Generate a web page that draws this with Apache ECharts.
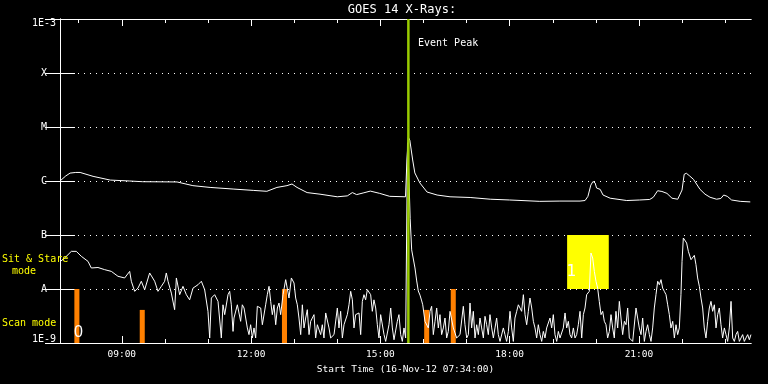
<!DOCTYPE html>
<html><head><meta charset="utf-8">
<script src="https://cdn.jsdelivr.net/npm/echarts@6/dist/echarts.min.js"></script>
<style>html,body{margin:0;padding:0;background:#000;}#c{width:768px;height:384px;}</style>
</head><body><div id="c"></div>
<script>
// time axis: minutes since start 16-Nov-12 07:34:00
const endMinute = 962;
const hourTickMinutes = [26,86,146,206,266,326,386,446,506,566,626,686,746,806,866,926];
const labelTickMinutes = [86,266,446,626,806];
const labelTickText = ['09:00','12:00','15:00','18:00','21:00'];
const yTickExponents = [-9,-8,-7,-6,-5,-4,-3];
const yTickLabels = ['1E-9','A','B','C','M','X','1E-3'];

// GOES 14 long channel (upper curve) [minute, W/m^2]
const longChannel = [[0,1.0e-6],[8,1.24e-6],[14,1.4e-6],[22,1.44e-6],[28,1.44e-6],[46,1.22e-6],[70,1.04e-6],[97,1.0e-6],[115,9.7e-7],[163,9.6e-7],[185,8.2e-7],[209,7.6e-7],[241,7.1e-7],[269,6.7e-7],[288,6.45e-7],[302,7.6e-7],[316,8.2e-7],[323,8.8e-7],[330,7.6e-7],[344,6.1e-7],[362,5.7e-7],[386,5.1e-7],[400,5.3e-7],[407,6.1e-7],[413,5.6e-7],[422,6.0e-7],[432,6.5e-7],[445,5.9e-7],[459,5.2e-7],[481,5.1e-7],[483,2.45e-6],[485,6.5e-6],[487,5.7e-6],[491,2.45e-6],[494,1.41e-6],[501,9.2e-7],[511,6.25e-7],[525,5.5e-7],[543,5.1e-7],[571,4.95e-7],[599,4.6e-7],[626,4.45e-7],[668,4.2e-7],[696,4.25e-7],[724,4.25e-7],[731,4.35e-7],[735,5.2e-7],[739,8.4e-7],[742,9.8e-7],[745,9.2e-7],[747,7.4e-7],[752,7.0e-7],[756,5.5e-7],[766,4.8e-7],[789,4.35e-7],[807,4.45e-7],[821,4.55e-7],[826,5.0e-7],[832,6.6e-7],[838,6.4e-7],[845,5.9e-7],[852,4.8e-7],[860,4.6e-7],[866,6.8e-7],[869,1.33e-6],[872,1.39e-6],[876,1.26e-6],[882,1.07e-6],[891,7.0e-7],[898,5.7e-7],[905,5.0e-7],[914,4.6e-7],[920,4.75e-7],[924,5.5e-7],[929,5.2e-7],[935,4.45e-7],[947,4.2e-7],[961,4.1e-7]];

// GOES 14 short channel (lower curve) [minute, W/m^2]
const shortChannel = [[0,3.2e-8],[6.5,3.75e-8],[15.8,4.98e-8],[22.7,4.98e-8],[29.7,4.03e-8],[39,3.25e-8],[43.6,2.45e-8],[52.9,2.5e-8],[62.2,2.28e-8],[71.5,2.12e-8],[80.7,1.72e-8],[90,1.6e-8],[97,2.12e-8],[99.3,1.39e-8],[104,9.05e-9],[108.6,1.04e-8],[113.2,1.39e-8],[117.9,9.7e-9],[124.8,1.98e-8],[131.8,1.39e-8],[136.4,9.05e-9],[141.1,1.12e-8],[145.7,1.39e-8],[148,1.98e-8],[150.4,1.39e-8],[155,8.4e-9],[159.6,4.14e-9],[162,1.6e-8],[166.6,7.85e-9],[171.2,1.12e-8],[175.9,7.85e-9],[180.5,6.3e-9],[185.2,1.04e-8],[192.1,1.2e-8],[196.8,1.39e-8],[201.4,9.7e-9],[206,3.86e-9],[208.4,1.24e-9],[210.7,6.8e-9],[215.3,7.85e-9],[220,5.9e-9],[224.6,1.24e-9],[226.9,5.1e-9],[229.3,3.35e-9],[233.9,7.85e-9],[236.2,9.05e-9],[238.5,5.1e-9],[240.9,1.64e-9],
[242.2,2.9e-9],[246.9,5.1e-9],[251.5,2.52e-9],[253.8,5.1e-9],[256.2,4.45e-9],[260.8,1.9e-9],[263.1,1.43e-9],[265.4,2.18e-9],[267.8,1.24e-9],[270.1,1.9e-9],[272.4,1.24e-9],[274.7,4.78e-9],[277.1,5.1e-9],[279.4,4.45e-9],[281.7,2.18e-9],[286.3,5.1e-9],[288.6,7.85e-9],[291,1.12e-8],[293.3,5.9e-9],[295.6,3.35e-9],[297.9,5.1e-9],[300.3,2.18e-9],[302.6,4.45e-9],[304.9,5.5e-9],[307.2,3.35e-9],[310.5,7.85e-9],[314.2,1.49e-8],[318.8,6.8e-9],[322.1,1.6e-8],[325.8,1.29e-8],[328.1,6.8e-9],[330.4,5.1e-9],[332.7,2.9e-9],[335.1,1.43e-9],[337.4,5.1e-9],[339.7,1.9e-9],[342,2.9e-9],[344.3,4.14e-9],[346.7,1.43e-9],[349,2.52e-9],[353.6,3.35e-9],[355.9,1.24e-9],[358.3,2.18e-9],[362.9,1.43e-9],[365.2,2.18e-9],[367.5,1.24e-9],[369.9,3.6e-9],[372.2,3.86e-9],[374.5,1.9e-9],[376.8,1.24e-9],[381.5,1.43e-9],[386.1,4.45e-9],[388.4,1.9e-9],[390.7,3.86e-9],[393.1,1.24e-9],[395.4,2.18e-9],[400,3.35e-9],[402.3,5.1e-9],[404.7,9.05e-9],[407,6.3e-9],[409.3,1.9e-9],[411.6,3.35e-9],[416.3,3.6e-9],[418.6,1.43e-9],[420.9,5.9e-9],[423.2,7.85e-9],[425.5,6.3e-9],[427.9,9.7e-9],[430.2,1.04e-8],[432.5,7.85e-9],[434.8,3.86e-9],[437.1,6.3e-9],[439.5,4.45e-9],[441.8,2.18e-9],[444.1,1.24e-9],[446.4,3.35e-9],[451.1,1.43e-9],[453.4,1.07e-9],[458,2.18e-9],[460.4,4.45e-9],[462.7,1.9e-9],[465,1.15e-9],[469.6,2.52e-9],[471.9,3.35e-9],[474.3,1.43e-9],[476.6,1.07e-9],[478.9,1.9e-9],[481.2,1.24e-9],
[482.8,1.2e-9],[483.8,5.1e-6],[485.5,1.5e-6],[487.5,2.0e-7],[489.6,5.3e-8],[494.2,2.45e-8],[496.6,1.41e-8],[498.8,9.2e-9],[501.2,7.7e-9],[503.6,6.0e-9],[505,5.1e-9],
[508.1,2.52e-9],[512.8,1.9e-9],[515.1,3.86e-9],[517.4,4.78e-9],[519.7,1.43e-9],[522.1,2.52e-9],[524.4,4.45e-9],[526.7,1.9e-9],[529,3.35e-9],[531.3,1.43e-9],[533.7,1.9e-9],[536,2.9e-9],[538.3,1.24e-9],[540.6,1.64e-9],[543,3.86e-9],[547.6,1.9e-9],[552.2,1.24e-9],[556.9,1.43e-9],[561.5,4.78e-9],[563.8,2.18e-9],[566.2,1.24e-9],[568.5,1.43e-9],[570.8,5.5e-9],[573.1,1.9e-9],[575.4,3.86e-9],[577.8,1.24e-9],[580.1,2.18e-9],[582.4,1.43e-9],[584.7,2.9e-9],[587,1.9e-9],[589.4,1.24e-9],[591.7,3.12e-9],[594,2.18e-9],[596.3,1.43e-9],[598.6,3.35e-9],[601,1.9e-9],[603.3,1.24e-9],[605.6,1.9e-9],[607.9,2.9e-9],[610.2,1.43e-9],[612.6,1.07e-9],[617.2,1.9e-9],[619.5,1.43e-9],[621.8,1.07e-9],[624.2,1.64e-9],[626.5,3.86e-9],[628.8,1.9e-9],[631.1,1.07e-9],[633.4,2.9e-9],[635.8,3.86e-9],[638.1,5.1e-9],[640.4,4.45e-9],[642.7,3.86e-9],[645.1,7.85e-9],[647.4,3.35e-9],[649.7,2.18e-9],[652,3.86e-9],[654.3,6.8e-9],[656.7,4.45e-9],[659,2.52e-9],[661.3,1.9e-9],[663.6,1.24e-9],[665.9,2.18e-9],[668.3,1.43e-9],[670.6,1.07e-9],[672.9,1.64e-9],[675.2,1.24e-9],[677.5,1.9e-9],[682.2,2.9e-9],[684.5,1.9e-9],[686.8,3.35e-9],[689.1,1.43e-9],[691.5,1.07e-9],[693.8,1.64e-9],[696.1,1.24e-9],[700.7,1.9e-9],[703.1,3.6e-9],[705.4,1.9e-9],[707.7,2.52e-9],[710,1.43e-9],[712.3,1.24e-9],[714.7,1.9e-9],[717,1.24e-9],[719.3,1.43e-9],[721.6,2.18e-9],[724,3.86e-9],[726.3,1.24e-9],[728.6,3.35e-9],[730.9,4.45e-9],[733.2,7.85e-9],
[736.9,9.05e-9],[739.2,4.64e-8],[741.6,3.75e-8],[743.9,2.12e-8],[746.2,1.39e-8],[748.5,1.04e-8],[750.8,5.9e-9],[753.2,3.35e-9],[755.5,3.86e-9],[757.8,2.52e-9],[760.1,2.18e-9],[762.4,1.24e-9],[764.8,1.64e-9],[767.1,3.35e-9],[769.4,1.9e-9],[771.7,1.24e-9],[774,3.86e-9],[776.4,1.9e-9],[778.7,5.9e-9],[781,2.9e-9],[783.3,1.43e-9],[785.7,2.52e-9],[788,2.18e-9],[790.3,4.45e-9],[792.6,1.24e-9],[797.3,1.07e-9],[801.9,4.45e-9],[804.2,2.9e-9],[806.5,1.9e-9],[808.9,1.43e-9],[811.2,2.9e-9],[813.5,1.07e-9],[815.8,1.64e-9],[818.1,2.18e-9],[820.5,1.43e-9],[822.8,1.07e-9],[825.1,1.9e-9],[827.4,4.45e-9],[829.7,7.85e-9],[832.1,1.39e-8],[834.4,1.2e-8],[836.7,1.49e-8],[839,1.04e-8],[841.3,9.05e-9],[843.7,7.85e-9],[846,5.1e-9],[848.3,3.35e-9],[850.6,1.9e-9],[853,2.52e-9],[855.3,1.24e-9],[857.6,2.18e-9],[859.9,1.43e-9],[862.2,1.9e-9],[864.5,7.85e-9],[866,3.25e-8],[867.8,8.8e-8],[870.1,9.05e-8],[872.4,7.1e-8],[874.8,4.98e-8],[878.5,3.49e-8],[880.8,3.75e-8],[883.1,4.2e-8],[885.4,2.82e-8],[887.7,1.6e-8],[890.1,1.12e-8],[892.4,6.8e-9],[894.7,4.45e-9],[897,1.9e-9],[899.3,1.24e-9],[901.7,2.52e-9],[904,4.45e-9],[906.3,5.9e-9],[908.6,3.86e-9],[911,5.1e-9],[913.3,1.9e-9],[915.6,3.35e-9],[917.9,4.45e-9],[920.2,2.18e-9],[922.5,1.24e-9],[924.9,1.9e-9],[927.2,1.43e-9],[929.5,1.07e-9],[931.8,1.9e-9],[934.2,5.9e-9],[936.5,1.24e-9],[938.8,1.07e-9],[941.1,1.43e-9],[943.4,1.64e-9],[945.8,1.07e-9],[948.1,1.24e-9],[950.4,1.43e-9],[952.7,1.07e-9],[955,1.24e-9],[957.4,1.43e-9],[959.7,1.15e-9],[961.9,1.43e-9]];

// observing mode markers [startMinute, endMinute, top]
const modeBars = [[20,27,1e-8],[111,118,4.1e-9],[309,316,1e-8],[507,514,4.1e-9],[544,551,1e-8]];
// event box [startMinute, endMinute, low, high]
const eventBox = [[706,764,1e-8,1e-7]];
const eventPeakMinute = [485];

const FONT = "'DejaVu Sans Mono', monospace";
const white = {color:'#fff', width:1};

function clockLabel(v){
  const i = labelTickMinutes.indexOf(Math.round(v));
  return i >= 0 ? labelTickText[i] : '';
}
function yLabel(v){
  const e = Math.round(Math.log10(v));
  const i = yTickExponents.indexOf(e);
  if (i < 0) return '';
  if (e === -9) return '{lo|' + yTickLabels[i] + '}';
  if (e === -3) return '{hi|' + yTickLabels[i] + '}';
  return yTickLabels[i];
}
function xAxisDef(pos, ticks, len, withLabels){
  const a = {
    type:'value', position:pos, min:0, max:endMinute, offset:0,
    axisLine:{show:true, lineStyle:white},
    axisTick:{show:true, inside:true, length:len, customValues:ticks, lineStyle:white},
    axisLabel:{show:false},
    splitLine:{show:false}
  };
  if (withLabels){
    a.axisLabel = {show:true, customValues:labelTickMinutes, formatter:clockLabel, color:'#fff', fontFamily:FONT, fontSize:9.5, margin:7};
    a.name = 'Start Time (16-Nov-12 07:34:00)';
    a.nameLocation = 'middle';
    a.nameGap = 19;
    a.nameTextStyle = {color:'#fff', fontFamily:FONT, fontSize:9.5};
  }
  return a;
}

const chart = echarts.init(document.getElementById('c'), null, {renderer:'canvas'});
chart.setOption({
  backgroundColor:'#000',
  animation:false,
  grid:{left:60, right:17, top:19, bottom:41},
  xAxis:[
    xAxisDef('bottom', labelTickMinutes, 7, true),
    xAxisDef('bottom', hourTickMinutes, 4, false),
    xAxisDef('top', labelTickMinutes, 7, false),
    xAxisDef('top', hourTickMinutes, 4, false)
  ],
  yAxis:[
    {type:'log', logBase:10, min:1e-9, max:1e-3, position:'left',
     axisLine:{show:true, lineStyle:white},
     axisTick:{show:true, inside:true, length:15, lineStyle:white},
     axisLabel:{show:true, color:'#fff', fontFamily:FONT, fontSize:10, align:'center', margin:16, formatter:yLabel,
       rich:{lo:{color:'#fff', fontFamily:FONT, fontSize:10, padding:[0,0,7,0]}, hi:{color:'#fff', fontFamily:FONT, fontSize:10, padding:[8,0,0,0]}}},
     splitLine:{show:true, lineStyle:{color:'#fff', width:1, type:[1,5]}}},
    {type:'log', logBase:10, min:1e-9, max:1e-3, position:'right',
     axisLine:{show:true, lineStyle:white},
     axisTick:{show:true, inside:true, length:15, lineStyle:white},
     axisLabel:{show:false}, splitLine:{show:false}}
  ],
  series:[
    {type:'custom', name:'event', z:1, xAxisIndex:0, yAxisIndex:0, data:eventBox,
     encode:{x:[0,1], y:[2,3]},
     renderItem:function(p, api){
       const a = api.coord([api.value(0), api.value(3)]);
       const b = api.coord([api.value(1), api.value(2)]);
       return {type:'rect', shape:{x:a[0], y:a[1], width:b[0]-a[0], height:b[1]-a[1]}, style:{fill:'#ffff00'}};
     }},
    {type:'custom', name:'mode', z:2, xAxisIndex:0, yAxisIndex:0, data:modeBars,
     encode:{x:[0,1], y:[2]},
     renderItem:function(p, api){
       const a = api.coord([api.value(0), api.value(2)]);
       const b = api.coord([api.value(1), 1e-9]);
       return {type:'rect', shape:{x:a[0], y:a[1], width:b[0]-a[0], height:b[1]-a[1]}, style:{fill:'#ff8000'}};
     }},
    {type:'line', name:'long', z:3, xAxisIndex:0, yAxisIndex:0, data:longChannel, symbol:'none', smooth:false,
     lineStyle:{color:'#fff', width:1}, silent:true},
    {type:'line', name:'short', z:3, xAxisIndex:0, yAxisIndex:0, data:shortChannel, symbol:'none', smooth:false,
     lineStyle:{color:'#fff', width:1}, silent:true},
    {type:'custom', name:'peak', z:5, xAxisIndex:0, yAxisIndex:0, data:eventPeakMinute.map(m=>[m]),
     encode:{x:[0]},
     renderItem:function(p, api){
       const a = api.coord([api.value(0), 1e-3]);
       const b = api.coord([api.value(0), 1e-9]);
       return {type:'line', shape:{x1:a[0], y1:a[1], x2:b[0], y2:b[1]}, style:{stroke:'#99cc00', lineWidth:2.5}};
     }}
  ],
  graphic:[
    {type:'text', z:10, style:{text:'GOES 14 X-Rays:', x:402, y:10, fill:'#fff', font:'12px '+FONT, textAlign:'center', textVerticalAlign:'middle', align:'center', verticalAlign:'middle'}},
    {type:'text', z:10, style:{text:'Event Peak', x:418, y:43, fill:'#fff', font:'10px '+FONT, textAlign:'left', textVerticalAlign:'middle', align:'left', verticalAlign:'middle'}},
    {type:'text', z:10, style:{text:'Sit & Stare', x:2, y:259, fill:'#ffff00', font:'10px '+FONT, textAlign:'left', textVerticalAlign:'middle', align:'left', verticalAlign:'middle'}},
    {type:'text', z:10, style:{text:'mode', x:24, y:271.5, fill:'#ffff00', font:'10px '+FONT, textAlign:'center', textVerticalAlign:'middle', align:'center', verticalAlign:'middle'}},
    {type:'text', z:10, style:{text:'Scan mode', x:2, y:323.5, fill:'#ffff00', font:'10px '+FONT, textAlign:'left', textVerticalAlign:'middle', align:'left', verticalAlign:'middle'}},
    {type:'text', z:10, style:{text:'1', x:571.5, y:272, fill:'#fff', font:'15px "DejaVu Sans"', textAlign:'center', textVerticalAlign:'middle', align:'center', verticalAlign:'middle'}},
    {type:'text', z:10, style:{text:'0', x:78.5, y:333, fill:'#fff', font:'16px "Liberation Sans"', textAlign:'center', textVerticalAlign:'middle', align:'center', verticalAlign:'middle'}}
  ]
});
</script>
</body></html>
